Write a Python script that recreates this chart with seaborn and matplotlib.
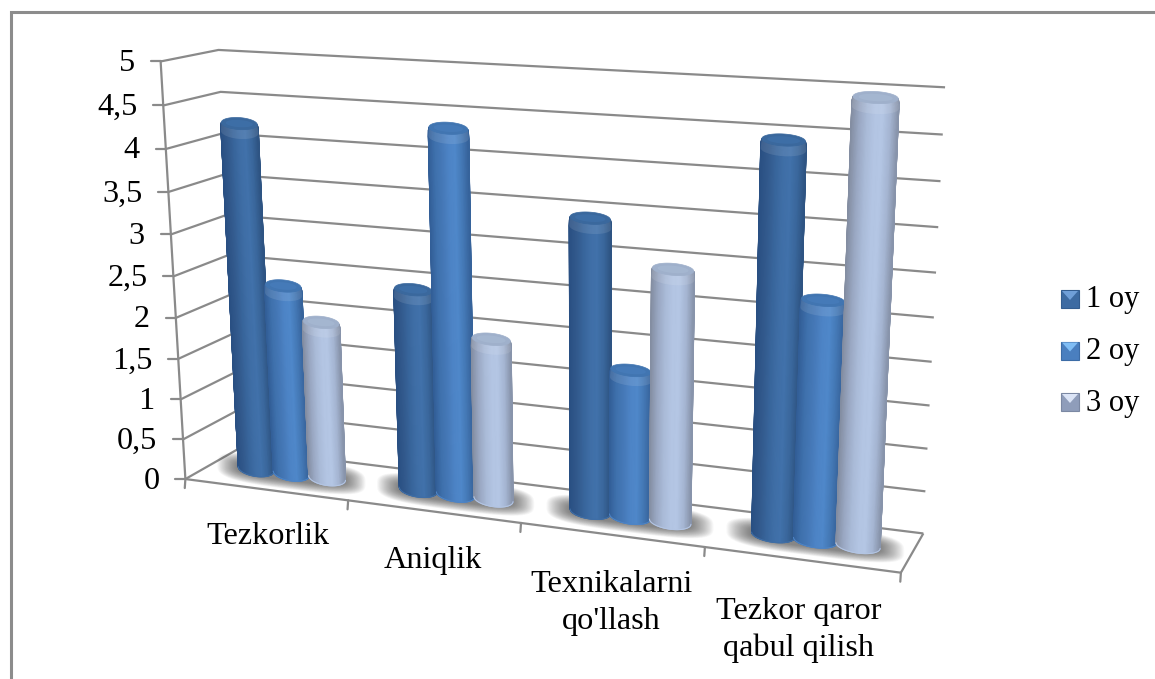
import numpy as np
import seaborn as sns
import matplotlib
matplotlib.use("Agg")
import matplotlib.pyplot as plt
from matplotlib.patches import Polygon

sns.set_theme(style="white")
plt.rcParams["font.family"] = ["Liberation Serif", "DejaVu Serif"]

# data
categories = ["Tezkorlik", "Aniqlik", "Texnikalarni\nqo'llash", "Tezkor qaror\nqabul qilish"]
series_names = ["1 oy", "2 oy", "3 oy"]
oy1 = [4.3, 2.5, 3.5, 4.5]
oy2 = [2.4, 4.4, 1.8, 2.8]
oy3 = [2.0, 2.0, 3.0, 5.0]
y_ticks = [0, 0.5, 1, 1.5, 2, 2.5, 3, 3.5, 4, 4.5, 5]
y_labels = ["0", "0,5", "1", "1,5", "2", "2,5", "3", "3,5", "4", "4,5", "5"]

GRID = "#8a8a8a"
FS = 23.2
body_stops = [
    ["#2a5083", "#32598c", "#38659b", "#3f6ea6", "#4172ab", "#3a679c", "#2e5483"],
    ["#335f98", "#3f71ad", "#4679b8", "#4d84c6", "#4f88ca", "#4478b5", "#36639b"],
    ["#848ea2", "#9aa8c3", "#aabbd8", "#b3c5e3", "#b4c6e4", "#a5b5d2", "#8894ab"],
]
top_rim = ["#3a689d", "#4175b1", "#9fb0cb"]
top_mid = ["#3f70a9", "#477cba", "#a6b8d2"]
legend_cols = [("#3d6ba2", "#6f9fd8", "#335d90"), ("#4a7fbf", "#80bdf4", "#3c6ca6"),
               ("#8f9dba", "#dbe4f6", "#7b88a3")]

# camera of the 3D box: (category pos, depth, value) -> picture pixels
cam_world = np.array([[0, 0, 0], [0, 0, 5], [0, 1, 5], [0, 1, 0], [4, 1, 5], [4, 1, 0], [4, 0, 0],
                      [1, 0, 0], [2, 0, 0], [3, 0, 0], [0, 0, 4], [0, 0, 4.5], [4, 1, 4.5], [4, 1, 4]], float)
cam_px = np.array([[187, 479], [167, 62], [220, 49], [238, 449], [945, 87], [923, 534], [902, 572],
                   [349, 500], [521, 522], [704, 548], [161, 149], [159, 106], [943, 135], [940, 181]], float)
A, b = [], []
for (u, v, w), (px, py) in zip(cam_world, cam_px):
    A.append([u, v, w, 1, 0, 0, 0, 0, -px * u, -px * v, -px * w])
    A.append([0, 0, 0, 0, u, v, w, 1, -py * u, -py * v, -py * w])
    b += [px, py]
cam = np.append(np.linalg.lstsq(np.array(A), np.array(b), rcond=None)[0], 1).reshape(3, 4)


def proj(u, v, w):
    u, v, w = np.broadcast_arrays(np.asarray(u, float), np.asarray(v, float), np.asarray(w, float))
    h = np.stack([u, v, w, np.ones_like(u)])
    q = np.tensordot(cam, h, axes=1)
    return q[0] / q[2], q[1] / q[2]


fig = plt.figure(figsize=(11.55, 6.79), dpi=100)
ax = fig.add_axes([0, 0, 1, 1])
ax.set_xlim(0, 1155)
ax.set_ylim(679, 0)
ax.axis("off")

# outer frame
ax.plot([11, 11, 1155], [679, 12, 12], color="#8c8c8c", lw=2.2, solid_joinstyle="miter", zorder=1)


def box_line(u, v, w, lw=1.6):
    x, y = proj(u, v, w)
    ax.plot(x, y, color=GRID, lw=lw, zorder=2, solid_capstyle="butt", solid_joinstyle="miter")


# walls, floor, ticks
for t, lab in zip(y_ticks, y_labels):
    box_line([0, 0, 4], [0, 1, 1], [t, t, t])
    x0, y0 = proj(0, 0, t)
    ax.plot([x0 - 10, x0], [y0, y0], color=GRID, lw=1.6, zorder=2)
    ax.text(x0 - 26, y0 + 2, lab, ha="right", va="center", fontsize=FS, color="black")
box_line([0, 0], [0, 0], [0, 5])
box_line([0, 4, 4], [0, 0, 1], [0, 0, 0])
for i in range(5):
    x0, y0 = proj(i, 0, 0)
    ax.plot([x0, x0 - 0.6], [y0, y0 + 9], color=GRID, lw=1.6, zorder=2)

# cylinders
d = 1 / 4.5
lid_drop = 0.06     # the lid sits a little under the value, as in the picture
theta = np.linspace(np.pi, 0, 61)   # front half, left edge to right edge
ring = np.linspace(0, 2 * np.pi, 121)
zo = 5


def ellipse(uc, w, ru, ry, th, vc=0.5):
    cx, cy = proj(uc, vc, w)
    ex, ey = proj(uc + ru, vc, w)
    return cx + np.cos(th) * (ex - cx), cy + np.cos(th) * (ey - cy) + np.sin(th) * ry


def shadow(uc):
    n = 24
    cos_r = np.sign(np.cos(ring)) * np.abs(np.cos(ring)) ** 0.6
    sin_r = np.sign(np.sin(ring)) * np.abs(np.sin(ring)) ** 0.6
    cx, cy = proj(uc, 0.5, 0)
    for k in range(n):
        f = 1 - k / n
        ex, ey = proj(uc + 1.5 * d + 0.125 * f, 0.5, 0)
        x = cx + cos_r * (ex - cx)
        y = cy + cos_r * (ey - cy) + sin_r * (7 + 9 * f)
        ax.add_patch(Polygon(np.c_[x, y], closed=True, fc="#3a3a3a", ec="none", alpha=0.035, zorder=3))


def cylinder(uc, val, s, zo):
    ru = d / 2 * 1.02
    top = val - lid_drop
    cmap = sns.blend_palette(body_stops[s], n_colors=256, as_cmap=True)
    levels = [0, top - 0.1, top - 0.035, top]
    rads = [1, 1, 0.99, 0.96]
    rys = [7.5, 6.8, 6.6, 6.0]
    XY = [ellipse(uc, w, ru * r, ry, theta) for w, r, ry in zip(levels, rads, rys)]
    X = np.array([p[0] for p in XY])
    Y = np.array([p[1] for p in XY])
    # cos is -1 at the left edge, so colour runs 0 at left to 1 at right
    C = np.tile((np.cos(theta) + 1) / 2, (len(levels), 1))
    ax.pcolormesh(X, Y, C, shading="gouraud", cmap=cmap, vmin=0, vmax=1, zorder=zo)
    # soft edge, so the sides are not jagged
    ax.plot(X[:, 0], Y[:, 0], color=body_stops[s][0], lw=0.8, alpha=0.8, zorder=zo + 0.1)
    ax.plot(X[:, -1], Y[:, -1], color=body_stops[s][-1], lw=0.8, alpha=0.8, zorder=zo + 0.1)
    ax.plot(X[0], Y[0], color=body_stops[s][3], lw=0.8, zorder=zo + 0.1)
    # light band under the rim
    bx = np.r_[X[1], X[3][::-1]]
    by = np.r_[Y[1], Y[3][::-1]]
    ax.add_patch(Polygon(np.c_[bx, by], closed=True, fc="white", ec="none", alpha=0.10, zorder=zo + 0.2))
    # lid
    x, y = ellipse(uc, top, ru * 0.96, 6.0, ring)
    ax.add_patch(Polygon(np.c_[x, y], closed=True, fc=top_rim[s], ec=top_rim[s], lw=0.5, zorder=zo + 0.3))
    x, y = ellipse(uc, top, ru * 0.72, 3.6, ring)
    ax.add_patch(Polygon(np.c_[x, y], closed=True, fc=top_mid[s], ec="none", alpha=0.8, zorder=zo + 0.4))


series_vals = [oy1, oy2, oy3]
label_dx = [2, 0, 0, -3]
label_dy = [54, 57, 57, 59]
for i, cat in enumerate(categories):
    shadow(i + 0.5)
    for s in range(3):
        cylinder(i + 0.5 + (s - 1) * d, series_vals[s][i], s, zo)
        zo += 1
    # category label, one text per line
    x0, y0 = proj(i + 0.5, 0, 0)
    for j, line in enumerate(cat.split("\n")):
        ax.text(x0 + label_dx[i], y0 + label_dy[i] + 37 * j, line, ha="center", va="baseline", fontsize=FS,
                color="black", zorder=30)

# legend
for s, name in enumerate(series_names):
    yc = 299 + s * 51.5
    x0, x1, y0, y1 = 1061, 1079, yc - 9, yc + 9
    base, light, dark = legend_cols[s]
    ax.add_patch(Polygon([(x0, y0), (x1, y0), (x1, y1), (x0, y1)], closed=True, fc=base, ec=dark, lw=0.8, zorder=20))
    ax.add_patch(Polygon([(x0 + 1, y0 + 1), (x1 - 1, y0 + 1), ((x0 + x1) / 2, yc + 1)], closed=True, fc=light,
                         ec="none", zorder=21))
    ax.text(1086, yc + 1, name, ha="left", va="center", fontsize=22, color="black", zorder=21)

fig.savefig("out.png", dpi=100)
